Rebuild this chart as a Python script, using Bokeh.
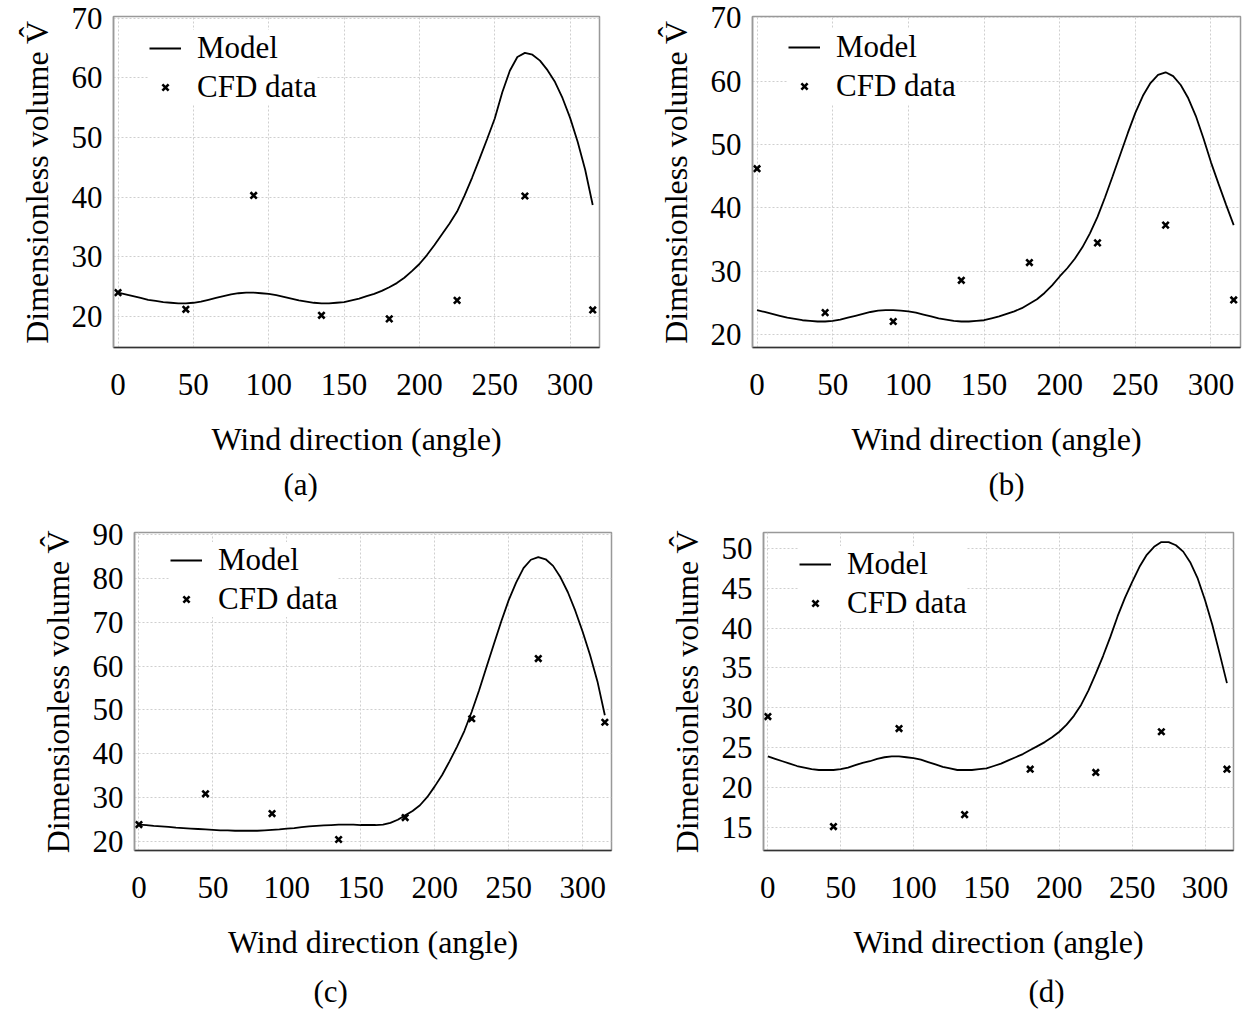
from bokeh.plotting import figure
from bokeh.models import Legend, LegendItem, FixedTicker, Range1d, Title
from bokeh.layouts import column, row
from bokeh.embed import file_html
from bokeh.resources import INLINE

# ---------------- data ----------------
wind_angles = [0, 45, 90, 135, 180, 225, 270, 315]
model_angles = [0, 5, 10, 15, 20, 25, 30, 35, 40, 45, 50, 55, 60, 65, 70, 75, 80, 85,
                90, 95, 100, 105, 110, 115, 120, 125, 130, 135, 140, 145, 150, 155,
                160, 165, 170, 175, 180, 185, 190, 195, 200, 205, 210, 215, 220, 225,
                230, 235, 240, 245, 250, 255, 260, 265, 270, 275, 280, 285, 290, 295,
                300, 305, 310, 315]

cfd_a = [24.0, 21.2, 40.3, 20.2, 19.6, 22.7, 40.2, 21.1]
cfd_b = [46.2, 23.5, 22.1, 28.6, 31.4, 34.5, 37.3, 25.5]
cfd_c = [23.9, 30.9, 26.4, 20.5, 25.5, 48.0, 61.7, 47.2]
cfd_d = [28.9, 15.1, 27.4, 16.6, 22.3, 21.9, 27.0, 22.3]

model_a = [24.0, 23.7, 23.4, 23.1, 22.8, 22.6, 22.4, 22.3, 22.2, 22.2, 22.3, 22.5,
           22.8, 23.1, 23.4, 23.7, 23.9, 24.0, 24.0, 23.9, 23.8, 23.6, 23.3, 23.0,
           22.7, 22.5, 22.3, 22.2, 22.2, 22.3, 22.4, 22.7, 23.0, 23.4, 23.8, 24.3,
           24.9, 25.6, 26.5, 27.6, 28.8, 30.3, 32.0, 33.8, 35.6, 37.6, 40.3, 43.3,
           46.5, 49.8, 53.2, 57.6, 61.2, 63.5, 64.2, 63.9, 62.9, 61.3, 59.3, 56.6,
           53.3, 49.3, 44.6, 38.7]
model_b = [23.9, 23.6, 23.3, 23.0, 22.7, 22.5, 22.3, 22.2, 22.1, 22.1, 22.2, 22.4,
           22.7, 23.0, 23.3, 23.6, 23.8, 23.9, 23.9, 23.8, 23.7, 23.5, 23.2, 22.9,
           22.6, 22.4, 22.2, 22.1, 22.1, 22.2, 22.3, 22.6, 22.9, 23.3, 23.7, 24.2,
           24.9, 25.6, 26.6, 27.8, 29.2, 30.5, 32.0, 33.8, 36.0, 38.6, 41.7, 45.0,
           48.4, 51.8, 55.0, 57.7, 59.7, 61.0, 61.4, 60.8, 59.4, 57.3, 54.5, 51.0,
           47.2, 43.8, 40.5, 37.3]
model_c = [23.9, 23.8, 23.6, 23.5, 23.4, 23.2, 23.1, 23.0, 22.9, 22.8, 22.7, 22.6,
           22.6, 22.5, 22.5, 22.5, 22.5, 22.6, 22.7, 22.8, 23.0, 23.1, 23.3, 23.5,
           23.6, 23.7, 23.8, 23.9, 23.9, 23.9, 23.8, 23.8, 23.8, 23.9, 24.3, 25.0,
           26.0, 27.0, 28.3, 30.2, 32.6, 35.2, 38.3, 41.6, 45.2, 49.6, 54.5, 59.8,
           65.0, 70.2, 75.0, 79.0, 82.3, 84.2, 84.8, 84.3, 82.8, 80.2, 76.8, 72.6,
           67.8, 62.5, 56.5, 48.8]
model_d = [23.9, 23.6, 23.3, 23.0, 22.7, 22.5, 22.3, 22.2, 22.2, 22.2, 22.3, 22.5,
           22.8, 23.1, 23.3, 23.6, 23.8, 23.9, 23.9, 23.8, 23.7, 23.5, 23.2, 22.9,
           22.6, 22.4, 22.2, 22.2, 22.2, 22.3, 22.4, 22.7, 23.0, 23.4, 23.8, 24.2,
           24.7, 25.2, 25.7, 26.3, 27.0, 27.9, 29.0, 30.4, 32.2, 34.3, 36.5, 38.9,
           41.5, 43.8, 45.8, 47.7, 49.2, 50.2, 50.8, 50.8, 50.4, 49.6, 48.2, 46.2,
           43.5, 40.4, 36.8, 33.1]

x_ticks = [0, 50, 100, 150, 200, 250, 300]
y_ticks_ab = [20, 30, 40, 50, 60, 70]
y_ticks_c = [20, 30, 40, 50, 60, 70, 80, 90]
y_ticks_d = [15, 20, 25, 30, 35, 40, 45, 50]
captions = ["(a)", "(b)", "(c)", "(d)"]

x_label = "Wind direction (angle)"
y_label = "Dimensionless volume V\u0302"
legend_labels = ["Model", "CFD data"]

FONT = "Liberation Serif"
HAS_STANDOFF = "standoff" in Title.properties()
DEFAULT_STANDOFF = Title().standoff if HAS_STANDOFF else 0


def make_panel(model_y, cfd_y, yr, yticks, caption, width, height,
               b_left, b_right, b_top, b_bottom, cap_offset, cap_extra):
    p = figure(width=width, height=height, output_backend="svg",
               toolbar_location=None, x_range=Range1d(-3, 319.5),
               y_range=Range1d(*yr))
    p.min_border_left = b_left
    p.min_border_right = b_right
    p.min_border_top = b_top
    p.min_border_bottom = b_bottom
    p.background_fill_color = "white"
    p.border_fill_color = "white"
    p.outline_line_color = "#999999"
    p.outline_line_width = 1.5

    line_r = p.line(model_angles, model_y, line_color="black", line_width=1.8)
    sc_r = p.scatter(wind_angles, cfd_y, marker="x", size=9, line_color="black",
                     line_width=2.6)

    p.xaxis.ticker = FixedTicker(ticks=x_ticks)
    p.yaxis.ticker = FixedTicker(ticks=yticks)
    for ax in (p.xaxis, p.yaxis):
        ax.major_tick_in = 0
        ax.major_tick_out = 0
        ax.minor_tick_in = 0
        ax.minor_tick_out = 0
        ax.major_label_text_font = FONT
        ax.major_label_text_font_size = "31px"
        ax.major_label_text_color = "black"
        ax.axis_label_text_font = FONT
        ax.axis_label_text_font_size = "32px"
        ax.axis_label_text_font_style = "normal"
        ax.axis_label_text_color = "black"
    p.xaxis.axis_line_color = "#333333"
    p.xaxis.axis_line_width = 1.5
    p.yaxis.axis_line_color = "#999999"
    p.yaxis.axis_line_width = 1.5
    p.xaxis.major_label_standoff = 26
    p.xaxis.axis_label_standoff = 23
    p.yaxis.major_label_standoff = 11
    p.yaxis.axis_label_standoff = 14
    p.xaxis.axis_label = x_label
    p.yaxis.axis_label = y_label

    p.xgrid.ticker = FixedTicker(ticks=x_ticks)
    p.ygrid.ticker = FixedTicker(ticks=yticks)
    for g in (p.xgrid, p.ygrid):
        g.grid_line_color = "#cfcfcf"
        g.grid_line_dash = "2 2"
        g.grid_line_width = 1

    fh = height - b_top - b_bottom
    legend = Legend(items=[LegendItem(label=legend_labels[0], renderers=[line_r]),
                           LegendItem(label=legend_labels[1], renderers=[sc_r])],
                    location=(36, fh - 90), border_line_color=None,
                    background_fill_color="white", background_fill_alpha=1.0,
                    label_text_font=FONT, label_text_font_size="31px",
                    label_text_color="black",
                    glyph_width=32, glyph_height=22, label_height=30,
                    label_standoff=16, spacing=3, padding=10, margin=0)
    p.add_layout(legend)

    cap = Title(text=caption, align="left", offset=cap_offset,
                text_font=FONT, text_font_size="31px", text_font_style="normal",
                text_color="black")
    if HAS_STANDOFF and cap_extra:
        cap.standoff = DEFAULT_STANDOFF + cap_extra
    p.add_layout(cap, "below")
    return p


pa = make_panel(model_a, cfd_a, (14.8, 70.3), y_ticks_ab, captions[0], 625, 508,
                113, 26, 15, 161, 170, 0)
pb = make_panel(model_b, cfd_b, (18.0, 70.2), y_ticks_ab, captions[1], 625, 508,
                127, 10, 16, 159, 236, 0)
pc = make_panel(model_c, cfd_c, (18.0, 90.4), y_ticks_c, captions[2], 625, 509,
                134, 14, 24, 162, 179, 8)
pd = make_panel(model_d, cfd_d, (12.1, 52.0), y_ticks_d, captions[3], 625, 509,
                138, 17, 24, 166, 265, 8)

layout = column(row(pa, pb), row(pc, pd))
open("out.html", "w").write(file_html(layout, INLINE))
